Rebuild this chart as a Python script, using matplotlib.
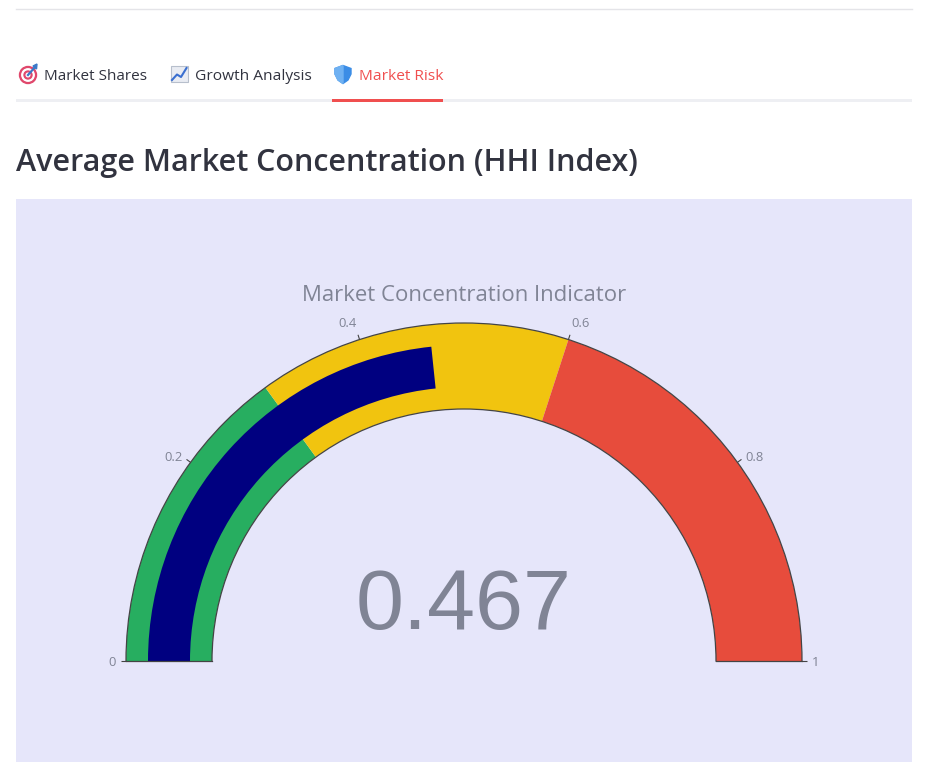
import matplotlib
matplotlib.use('Agg')
import matplotlib.pyplot as plt
import numpy as np
from matplotlib.patches import Rectangle, Circle, Polygon
from matplotlib.lines import Line2D

# ---------------- data ----------------
gauge_value = 0.467
gauge_min, gauge_max = 0.0, 1.0
step_starts = [0.0, 0.3, 0.6]
step_ends = [0.3, 0.6, 1.0]
step_colors = ['#27ae60', '#f1c40f', '#e74c3c']
bar_color = '#000080'
tick_values = [0.0, 0.2, 0.4, 0.6, 0.8, 1.0]
tick_labels = ['0', '0.2', '0.4', '0.6', '0.8', '1']
tab_labels = ['Market Shares', 'Growth Analysis', 'Market Risk']
page_title = 'Average Market Concentration (HHI Index)'
chart_title = 'Market Concentration Indicator'

# ---------------- figure ----------------
W, H = 931, 762
fig = plt.figure(figsize=(W / 100, H / 100), dpi=100)
fig.patch.set_facecolor('white')
bg = fig.add_axes([0, 0, 1, 1])
bg.set_xlim(0, W)
bg.set_ylim(H, 0)
bg.axis('off')
renderer = fig.canvas.get_renderer()

TEXT = '#31333F'
ACTIVE = '#f04f4f'
GREY_TXT = '#808495'


def fit_text(ax, x, y, s, width_px, **kw):
    t = ax.text(x, y, s, fontsize=10, **kw)
    w = t.get_window_extent(renderer).width
    t.set_fontsize(10 * width_px / w)
    return t


# top rule
bg.add_line(Line2D([16, 912], [8.5, 8.5], color='#e4e4e8', lw=1.0))

# tabs
tab_x = [44, 195, 359]
tab_w = [103, 116, 84]
for i, (lab, x, w) in enumerate(zip(tab_labels, tab_x, tab_w)):
    fit_text(bg, x, 80.5, lab, w, family=['Open Sans', 'DejaVu Sans'],
             color=ACTIVE if i == 2 else TEXT, ha='left', va='baseline')

# tab icons (decorative)
for r, c in [(8.5, '#e0486c'), (6.2, 'white'), (4.0, '#e0486c'), (1.8, 'white')]:
    bg.add_patch(Circle((28, 75), r, color=c, zorder=3))
bg.add_line(Line2D([28, 35], [75, 67], color='#3b79c8', lw=1.6, zorder=4))
bg.add_patch(Polygon([[33, 66], [37, 64], [36.5, 69]], closed=True, color='#3b79c8', zorder=4))

bg.add_patch(Rectangle((170.5, 66), 17, 16, facecolor='#e9ecf3', edgecolor='#b7bfcc', lw=0.8, zorder=3))
bg.add_line(Line2D([172, 177, 181, 186.5], [80, 74.5, 77, 68], color='#3a6fd0', lw=1.5, zorder=4))

bg.add_patch(Polygon([[343, 65.5], [351, 68.5], [351, 74], [348, 80], [343, 83.5],
                      [338, 80], [335, 74], [335, 68.5]], closed=True, color='#3b8de6', zorder=3))
bg.add_patch(Polygon([[343, 65.5], [335, 68.5], [335, 74], [338, 80], [343, 83.5]],
                     closed=True, color='#6fb1f2', zorder=4))

# tab underline
bg.add_patch(Rectangle((16, 99), 896, 2.5, color='#eeeff3', lw=0, zorder=2))
bg.add_patch(Rectangle((332, 98.5), 111, 3.2, color=ACTIVE, lw=0, zorder=3))

# page title
fit_text(bg, 16, 171, page_title, 621, family=['Open Sans', 'DejaVu Sans'],
         fontweight='semibold', color=TEXT, ha='left', va='baseline')

# plot background
bg.add_patch(Rectangle((16, 199), 896, 563, color='#e6e6fa', lw=0, zorder=0))

# chart title
fit_text(bg, 464, 301, chart_title, 323, family=['Open Sans', 'DejaVu Sans'],
         color=GREY_TXT, ha='center', va='baseline')

# ---------------- gauge (polar axes) ----------------
cx, cy = 464, 661
R_out = 338
r_in = 252 / R_out
bar_lo, bar_hi = 274 / R_out, 316 / R_out
tick_len = 5 / R_out
label_gap = 10 / R_out

# polar half-wedge is centred in a square box: centre sits at 1/4 of box height
side = 2 * R_out
ax = fig.add_axes([(cx - R_out) / W, (H - cy - R_out / 2) / H, side / W, side / H],
                  projection='polar')
ax.set_facecolor('none')
ax.set_theta_zero_location('W')
ax.set_theta_direction(-1)
ax.set_thetamin(0)
ax.set_thetamax(180)
ax.set_rorigin(0)
ax.set_ylim(r_in, 1.0)


def to_theta(v):
    return np.pi * (np.asarray(v) - gauge_min) / (gauge_max - gauge_min)


starts = to_theta(step_starts)
widths = to_theta(step_ends) - starts
ax.bar(starts, 1.0 - r_in, width=widths, bottom=r_in, align='edge',
       color=step_colors, linewidth=0, zorder=1)
ax.bar(to_theta(gauge_min), bar_hi - bar_lo, width=to_theta(gauge_value),
       bottom=bar_lo, align='edge', color=bar_color, linewidth=0, zorder=2)

for s in ax.spines.values():
    s.set_color('#444444')
    s.set_linewidth(0.9)
    s.set_zorder(3)
ax.grid(False)
ax.set_yticks([])
ax.set_xticks([])

# ticks and tick labels (plotly-style: outside the arc)
mid = (gauge_min + gauge_max) / 2
for v, lab in zip(tick_values, tick_labels):
    th = to_theta(v)
    ax.plot([th, th], [1.0, 1.0 + tick_len], color='#444444', lw=0.8,
            clip_on=False, zorder=3, solid_capstyle='butt')
    ha = 'right' if v < mid else ('left' if v > mid else 'center')
    frac = abs(v - mid) / (gauge_max - gauge_min)
    va = 'center_baseline' if frac > 0.25 else 'bottom'
    ax.text(th, 1.0 + label_gap, lab, ha=ha, va=va, fontsize=9.4,
            family=['Open Sans', 'DejaVu Sans'], color=GREY_TXT, clip_on=False)

# number
fit_text(bg, 464, 629, f'{gauge_value:.3f}', 216,
         family=['Liberation Sans', 'DejaVu Sans'], color=GREY_TXT,
         ha='center', va='baseline', zorder=5)

fig.savefig('out.png', dpi=100)
